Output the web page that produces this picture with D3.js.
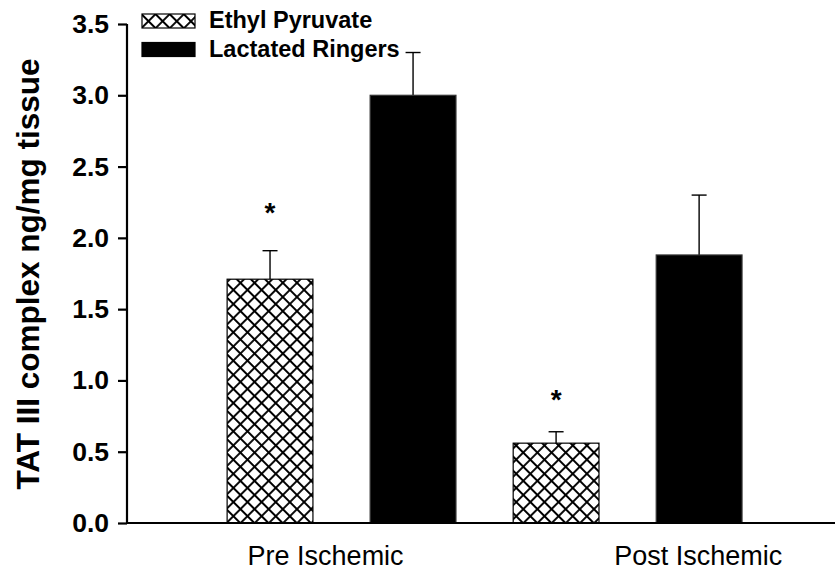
<!DOCTYPE html>
<html>
<head>
<meta charset="utf-8">
<script src="https://cdn.jsdelivr.net/npm/d3@7"></script>
<style>
    html, body { margin: 0; padding: 0; background: #fff; }
    svg { display: block; font-family: "Liberation Sans", Arial, sans-serif; }
</style>
</head>
<body>
<div id="chart"></div>
<script>
// Data
const groups = ['Pre Ischemic', 'Post Ischemic'];
const groupTickPos = [1.385, 3.99];          // where the category labels sit (bar units)
const seriesNames = ['Ethyl Pyruvate', 'Lactated Ringers'];
const ethylValues = [1.71, 0.56];
const ethylErrTop = [1.91, 0.64];
const ringersValues = [3.0, 1.88];
const ringersErrTop = [3.3, 2.3];
const starLevels = [2.22, 0.91];             // significance marks over Ethyl Pyruvate bars
const yTicks = [0, 0.5, 1.0, 1.5, 2.0, 2.5, 3.0, 3.5];

const width = 835, height = 572;
const margin = { top: 24, right: 0, bottom: 49, left: 127 };

const svg = d3.select('#chart').append('svg')
    .attr('width', width)
    .attr('height', height);

// crosshatch fill
const defs = svg.append('defs');
const pat = defs.append('pattern')
    .attr('id', 'hatch')
    .attr('patternUnits', 'userSpaceOnUse')
    .attr('width', 10).attr('height', 10)
    .attr('patternTransform', 'rotate(45)');
pat.append('rect').attr('width', 10).attr('height', 10).attr('fill', '#fff');
pat.append('path')
    .attr('d', 'M0,0 L10,0 M0,0 L0,10 M0,10 L10,10 M10,0 L10,10')
    .attr('stroke', '#000')
    .attr('stroke-width', 1.9);

// Scales
const xScale = d3.scaleLinear()
    .domain([0, 4.95])
    .range([margin.left, width - margin.right]);

const yScale = d3.scaleLinear()
    .domain([0, 3.5])
    .range([height - margin.bottom, margin.top]);

// build bars: each group holds Ethyl then Ringers
const bars = [];
groups.forEach((g, i) => {
    bars.push({ group: g, series: 0, pos: i * 2 + 1, value: ethylValues[i], err: ethylErrTop[i] });
    bars.push({ group: g, series: 1, pos: i * 2 + 2, value: ringersValues[i], err: ringersErrTop[i] });
});
const barW = xScale(0.6) - xScale(0);

// Error bars (upper only), drawn under the bars
const eb = svg.append('g');
eb.selectAll('.whisk')
    .data(bars)
    .enter()
    .append('line')
    .attr('x1', d => xScale(d.pos))
    .attr('x2', d => xScale(d.pos))
    .attr('y1', d => yScale(d.value))
    .attr('y2', d => yScale(d.err))
    .attr('stroke', '#000')
    .attr('stroke-width', 1.4);
eb.selectAll('.cap')
    .data(bars)
    .enter()
    .append('line')
    .attr('x1', d => xScale(d.pos) - 7.5)
    .attr('x2', d => xScale(d.pos) + 7.5)
    .attr('y1', d => yScale(d.err))
    .attr('y2', d => yScale(d.err))
    .attr('stroke', '#000')
    .attr('stroke-width', 1.4);

svg.append('g')
    .selectAll('rect')
    .data(bars)
    .enter()
    .append('rect')
    .attr('x', d => xScale(d.pos) - barW / 2)
    .attr('y', d => yScale(d.value))
    .attr('width', barW)
    .attr('height', d => yScale(0) - yScale(d.value))
    .attr('fill', d => d.series === 0 ? 'url(#hatch)' : '#000')
    .attr('stroke', d => d.series === 0 ? '#000' : '#333')
    .attr('stroke-width', 1.2);

// stars
svg.append('g')
    .selectAll('text')
    .data(starLevels)
    .enter()
    .append('text')
    .attr('x', (d, i) => xScale(i * 2 + 1))
    .attr('y', d => yScale(d) + 16)
    .attr('text-anchor', 'middle')
    .attr('font-size', 28)
    .attr('font-weight', 'bold')
    .text('*');

// Axes
const yAxis = d3.axisLeft(yScale)
    .tickValues(yTicks)
    .tickSize(9)
    .tickPadding(9)
    .tickFormat(d3.format('.1f'));

const gy = svg.append('g')
    .attr('transform', `translate(${margin.left},0)`)
    .call(yAxis);
gy.select('.domain').attr('d', `M0,${yScale(3.5)}V${yScale(0)}`).attr('stroke-width', 2.2);
gy.selectAll('.tick line').attr('stroke-width', 2.2);
gy.selectAll('.tick text')
    .attr('font-size', 26.5)
    .attr('font-weight', 'bold')
    .attr('font-family', '"Liberation Sans", Arial, sans-serif')
    .attr('fill', '#000');

const xAxis = d3.axisBottom(xScale)
    .tickValues(groupTickPos)
    .tickSize(0)
    .tickPadding(23)
    .tickFormat((d, i) => groups[i]);

const gx = svg.append('g')
    .attr('transform', `translate(0,${yScale(0)})`)
    .call(xAxis);
gx.select('.domain').attr('d', `M${margin.left - 1},0H${width}`).attr('stroke-width', 2.2);
gx.selectAll('.tick text')
    .attr('font-size', 27)
    .attr('font-family', '"Liberation Sans", Arial, sans-serif')
    .attr('fill', '#000');

// Y title
svg.append('text')
    .attr('transform', 'translate(39,274) rotate(-90)')
    .attr('text-anchor', 'middle')
    .attr('font-size', 31.5)
    .attr('font-weight', 'bold')
    .text('TAT III complex ng/mg tissue');

// Legend
const legend = svg.append('g');
seriesNames.forEach((name, i) => {
    const y = 14 + i * 28.5;
    legend.append('rect')
        .attr('x', 142).attr('y', y)
        .attr('width', 53).attr('height', 14)
        .attr('fill', i === 0 ? 'url(#hatch)' : '#000')
        .attr('stroke', '#000')
        .attr('stroke-width', 1.2);
    legend.append('text')
        .attr('x', 209)
        .attr('y', y + 14)
        .attr('font-size', 23.5)
        .attr('font-weight', 'bold')
        .text(name);
});
</script>
</body>
</html>
